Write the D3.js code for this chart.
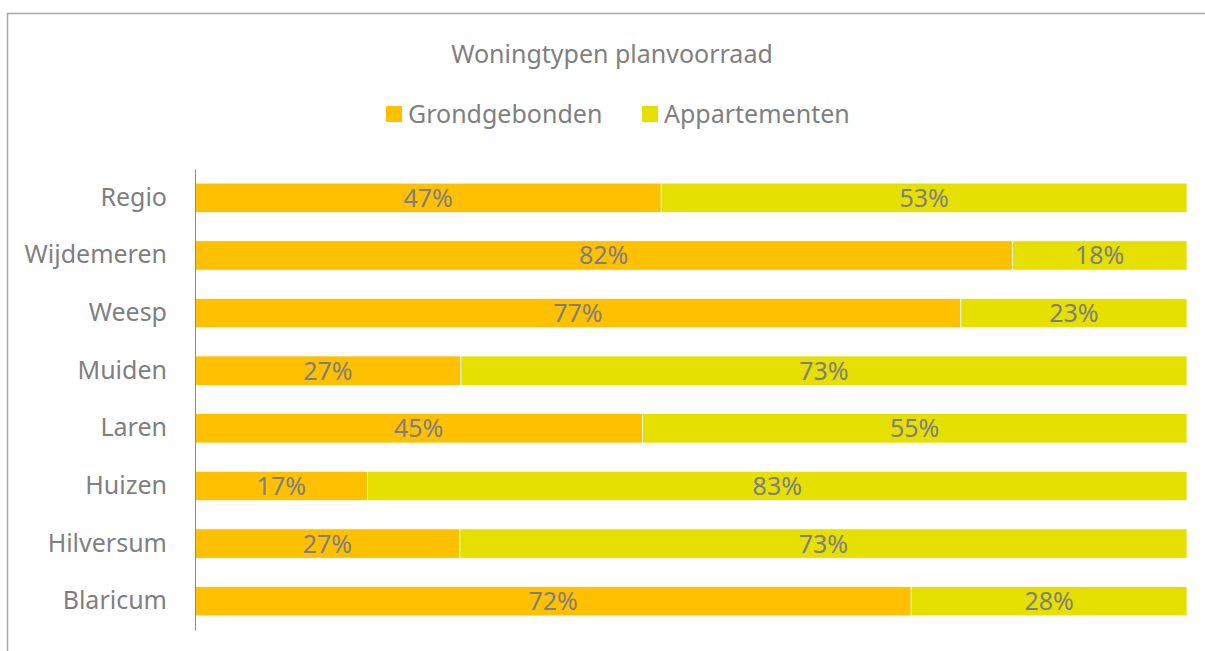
<!DOCTYPE html>
<html>
<head>
<meta charset="utf-8">
<script src="https://cdn.jsdelivr.net/npm/d3@7"></script>
<style>
  body { margin: 0; background: #fff; }
  text { font-family: "Noto Sans", "Open Sans", sans-serif; fill: #7f7f7f; }
</style>
</head>
<body>
<div id="chart"></div>
<script>
// woningtypen planvoorraad - 100% gestapelde staven
var categories = ["Regio", "Wijdemeren", "Weesp", "Muiden", "Laren", "Huizen", "Hilversum", "Blaricum"];
var grondgebonden = [47.0, 82.4, 77.2, 26.8, 45.1, 17.4, 26.7, 72.2];
var appartementen = [53.0, 17.6, 22.8, 73.2, 54.9, 82.6, 73.3, 27.8];
var seriesNames = ["Grondgebonden", "Appartementen"];
var colors = ["#ffc000", "#e6e000"];

var width = 1205, height = 651;
var svg = d3.select("#chart").append("svg").attr("width", width).attr("height", height);

// chart border
svg.append("rect").attr("x", 7.5).attr("y", 13.5).attr("width", width).attr("height", height)
  .attr("fill", "none").attr("stroke", "#a6a6a6").attr("stroke-width", 1.5);

svg.append("text").attr("x", 612).attr("y", 63).attr("text-anchor", "middle")
  .style("font-size", "25px").text("Woningtypen planvoorraad");

var x = d3.scaleLinear().domain([0, 100]).range([195, 1187]);
var y = d3.scaleBand().domain(categories).range([169, 630]).paddingInner(0.49).paddingOuter(0.245);

var rows = categories.map(function(c, i) {
  return { cat: c, Grondgebonden: grondgebonden[i], Appartementen: appartementen[i] };
});
var stack = d3.stack().keys(seriesNames)(rows);

var g = svg.append("g");
stack.forEach(function(layer, li) {
  var sel = g.selectAll(".seg" + li).data(layer).enter();
  sel.append("rect").attr("class", "seg" + li)
    .attr("x", function(d) { return x(d[0]); })
    .attr("y", function(d) { return y(d.data.cat); })
    .attr("width", function(d) { return x(d[1]) - x(d[0]); })
    .attr("height", y.bandwidth())
    .attr("fill", colors[li])
    .attr("stroke", "#fff").attr("stroke-width", 0.75);
  sel.append("text")
    .attr("x", function(d) { return (x(d[0]) + x(d[1])) / 2; })
    .attr("y", function(d) { return y(d.data.cat) + y.bandwidth() / 2; })
    .attr("dy", "0.36em").attr("text-anchor", "middle")
    .style("font-size", "25px")
    .text(function(d) { return Math.round(d[1] - d[0]) + "%"; });
});

// category axis
var yAxis = d3.axisLeft(y).tickSize(0).tickPadding(28);
var ax = svg.append("g").attr("transform", "translate(195,0)").call(yAxis);
ax.select(".domain").attr("stroke", "#8c8c8c").attr("stroke-width", 1);
ax.selectAll("text").style("font-size", "25px").style("fill", "#7f7f7f")
  .style("font-family", "'Noto Sans', 'Open Sans', sans-serif");

// legend
var legendX = [386, 642];
seriesNames.forEach(function(n, i) {
  svg.append("rect").attr("x", legendX[i]).attr("y", 106).attr("width", 16).attr("height", 16).attr("fill", colors[i]);
  svg.append("text").attr("x", legendX[i] + 22).attr("y", 123).style("font-size", "25px").text(n);
});
</script>
</body>
</html>
